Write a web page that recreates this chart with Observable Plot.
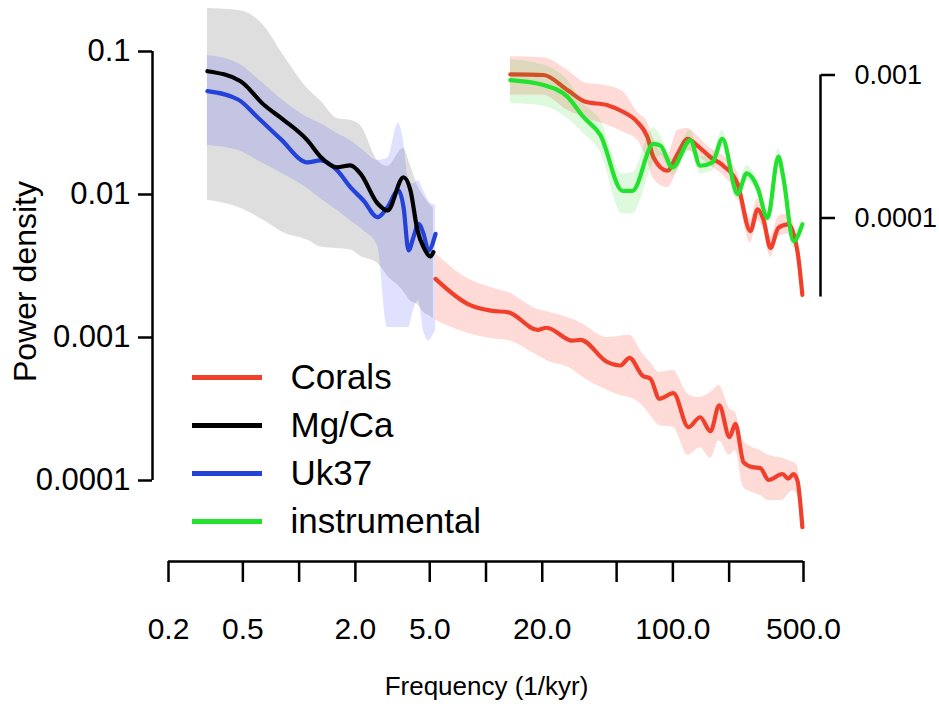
<!DOCTYPE html>
<html><head><meta charset="utf-8">
<script src="https://cdn.jsdelivr.net/npm/d3@7"></script>
<script src="https://cdn.jsdelivr.net/npm/@observablehq/plot@0.6"></script>
<style>
html,body{margin:0;padding:0;background:#fff;}
#chart{width:939px;height:704px;}
</style>
</head><body><div id="chart"></div>
<script>
// ---- Axis ticks ----
const xTicks = [0.2, 0.5, 1, 2, 5, 10, 20, 50, 100, 200, 500];
const xLabelTicks = [0.2, 0.5, 2, 5, 20, 100, 500];
const xTickLabels = ["0.2", "0.5", "2.0", "5.0", "20.0", "100.0", "500.0"];
const yTicks = [0.1, 0.01, 0.001, 0.0001];
const yTickLabels = ["0.1", "0.01", "0.001", "0.0001"];
const rightTicks = [0.001, 0.0001];
const rightTickLabels = ["0.001", "0.0001"];
const rightAxisExtent = [0.001, 0.000028];
const rightToLeft = 68.5; // right-axis units -> left-axis units

// ---- Legend ----
const seriesNames = ["Corals", "Mg/Ca", "Uk37", "instrumental"];
const seriesColors = ["#f0402c", "#000000", "#2343d8", "#22e22e"];

// ---- Mg/Ca (left axis) ----
const mgcaFreq  = [0.323, 0.486, 0.645, 0.825, 1.108, 1.30, 1.60, 1.88, 2.13, 2.63, 2.97, 3.62, 3.94, 4.30, 4.63, 5.04, 5.23];
const mgcaPower = [0.0728, 0.0620, 0.0426, 0.0333, 0.0239, 0.0184, 0.0155, 0.0160, 0.0140, 0.00865, 0.00773, 0.0132, 0.0107, 0.0056, 0.00428, 0.00369, 0.00395];
const mgcaHi    = [0.2, 0.193, 0.152, 0.094, 0.0551, 0.0454, 0.034, 0.033, 0.0304, 0.0173, 0.0157, 0.021, 0.016, 0.0116, 0.0098, 0.0084, 0.0080];
const mgcaLo    = [0.0091, 0.0080, 0.0066, 0.0054, 0.0048, 0.0043, 0.0042, 0.0041, 0.0037, 0.0033, 0.0027, 0.0021, 0.0018, 0.0017, 0.0015, 0.0014, 0.00135];

// ---- Uk37 (left axis) ----
const ukFreq  = [0.323, 0.474, 0.599, 0.795, 1.108, 1.30, 1.60, 1.88, 2.21, 2.63, 2.97, 3.40, 3.62, 3.85, 4.09, 4.35, 4.63, 4.92, 5.37];
const ukPower = [0.0528, 0.046, 0.0347, 0.0245, 0.0168, 0.0173, 0.0147, 0.01125, 0.00908, 0.00694, 0.00815, 0.0107, 0.00815, 0.00406, 0.00503, 0.00624, 0.00531, 0.00406, 0.00531];
const ukHi    = [0.0938, 0.0824, 0.0647, 0.0469, 0.0346, 0.0314, 0.0267, 0.0239, 0.0203, 0.0173, 0.0179, 0.0314, 0.0239, 0.0129, 0.0119, 0.0125, 0.0107, 0.00908, 0.00838];
const ukLo    = [0.022, 0.0203, 0.0173, 0.01425, 0.0110, 0.00938, 0.00773, 0.00658, 0.0056, 0.0044, 0.001175, 0.001175, 0.001175, 0.001175, 0.00154, 0.00181, 0.00112, 0.00095, 0.00112];

// ---- Corals, long spectrum (left axis) ----
const coralFreq  = [5.37, 7.96, 10.6, 13.2, 18.9, 21.1, 29.0, 32.0, 44.7, 52.4, 58.6, 68.7, 75.9, 84.7, 100.7, 121, 140, 159, 177, 201, 216, 239, 266, 294, 325, 386, 415, 442, 464, 493];
const coralPower = [0.00257, 0.00172, 0.00154, 0.00150, 0.00113, 0.00117, 0.00095, 0.000964, 0.000672, 0.000637, 0.000721, 0.000542, 0.000514, 0.000373, 0.000408, 0.000236, 0.000277, 0.000221, 0.000335, 0.000201, 0.000249, 0.000134, 0.000124, 0.000122, 0.000101, 0.000111, 0.000103, 0.000111, 0.0001, 0.0000472];
const coralHi    = [0.00387, 0.00259, 0.00224, 0.00206, 0.00157, 0.00152, 0.00134, 0.00127, 0.001, 0.00102, 0.00104, 0.000773, 0.000668, 0.000569, 0.000588, 0.0004, 0.00038, 0.000412, 0.000462, 0.000319, 0.000299, 0.00019, 0.00017, 0.000162, 0.00015, 0.000143, 0.000138, 0.000134, 0.000127, 0.0000569];
const coralLo    = [0.00132, 0.00107, 0.000984, 0.00095, 0.000748, 0.000691, 0.000597, 0.000542, 0.000426, 0.000393, 0.00038, 0.000335, 0.000285, 0.000242, 0.000235, 0.00015, 0.00017, 0.000143, 0.00019, 0.00015, 0.000162, 0.0000893, 0.0000824, 0.0000785, 0.0000725, 0.0000725, 0.00008, 0.0000851, 0.0000785, 0.0000412];

// ---- Corals, instrumental period (right axis) ----
const coral2Freq  = [13.5, 20.3, 27.3, 34.1, 44.7, 54.4, 64.6, 73.1, 78.7, 93.5, 106, 120, 135, 159, 186, 222, 260, 284, 305, 333, 367, 415, 464, 493];
const coral2Power = [0.00101, 0.001, 0.000784, 0.000649, 0.000615, 0.000551, 0.000469, 0.000368, 0.000266, 0.000214, 0.000281, 0.000358, 0.000321, 0.000266, 0.000232, 0.000173, 0.000081, 0.000115, 0.0000979, 0.0000618, 0.0000855, 0.0000903, 0.0000586, 0.000029];
const coral2Hi    = [0.00134, 0.00132, 0.00108, 0.000878, 0.000837, 0.000759, 0.000549, 0.000467, 0.00036, 0.000273, 0.00041, 0.000423, 0.000378, 0.000306, 0.000273, 0.000207, 0.0000984, 0.000136, 0.000116, 0.0000735, 0.000102, 0.000107, 0.0000689, 0.0000332];
const coral2Lo    = [0.000723, 0.000723, 0.000567, 0.000498, 0.000445, 0.000397, 0.000349, 0.000252, 0.000188, 0.000163, 0.000214, 0.000296, 0.000273, 0.000232, 0.000198, 0.000143, 0.0000667, 0.0000953, 0.0000837, 0.0000531, 0.0000735, 0.0000772, 0.0000514, 0.000026];

// ---- Instrumental (right axis) ----
const instFreq  = [13.5, 20.3, 27.3, 33.2, 41.0, 53.7, 60.8, 78.7, 85.8, 99.5, 124, 140, 163, 184, 222, 248, 284, 321, 367, 390, 442, 493];
const instPower = [0.000922, 0.000851, 0.000703, 0.000509, 0.000378, 0.000155, 0.000155, 0.00033, 0.000321, 0.000226, 0.000349, 0.000232, 0.000245, 0.000358, 0.000147, 0.000205, 0.000163, 0.0001, 0.000269, 0.000192, 0.0000689, 0.0000903];
const instHi    = [0.00128, 0.00118, 0.000922, 0.000635, 0.000482, 0.000204, 0.000207, 0.00043, 0.000378, 0.00026, 0.00041, 0.000269, 0.000278, 0.00041, 0.000168, 0.000232, 0.000185, 0.000114, 0.000306, 0.000218, 0.0000784, 0.000102];
const instLo    = [0.000635, 0.000605, 0.000498, 0.000391, 0.000287, 0.000107, 0.000107, 0.00024, 0.000273, 0.000198, 0.000296, 0.000204, 0.000214, 0.000316, 0.000132, 0.000182, 0.000145, 0.0000893, 0.00024, 0.000171, 0.0000615, 0.0000797];

// ---- build tables ----
const rows = (f, p, lo, hi, m = 1) => f.map((x, i) => ({f: x, p: p[i] * m, lo: lo[i] * m, hi: hi[i] * m}));
const mgca = rows(mgcaFreq, mgcaPower, mgcaLo, mgcaHi);
const uk = rows(ukFreq, ukPower, ukLo, ukHi);
const coral = rows(coralFreq, coralPower, coralLo, coralHi);
const coral2 = rows(coral2Freq, coral2Power, coral2Lo, coral2Hi, rightToLeft);
const inst = rows(instFreq, instPower, instLo, instHi, rightToLeft);
const rightTicksLeft = rightTicks.map(v => v * rightToLeft);
const xLabelRows = xLabelTicks.map((v, i) => ({v, label: xTickLabels[i]}));
const yLabelRows = yTicks.map((v, i) => ({v, label: yTickLabels[i]}));
const rightLabelRows = rightTicksLeft.map((v, i) => ({v, label: rightTickLabels[i]}));

const xOpts = {type: "log", domain: [0.2, 500], range: [168, 803]};
const yOpts = {type: "log", domain: [1e-4, 0.1], range: [480, 51]};
const xs = Plot.scale({x: xOpts});
const ys = Plot.scale({y: yOpts});

const legendRows = seriesNames.map((name, i) => ({name, color: seriesColors[i], y: ys.invert(377 + 48 * i)}));

const [cRed, cBlack, cBlue, cGreen] = seriesColors;
const curve = "monotone-x";
const lw = 4.2;
const noLabel = () => "";

const chart = Plot.plot({
  width: 939,
  height: 704,
  marginLeft: 152,
  marginRight: 119,
  marginTop: 51,
  marginBottom: 143,
  x: xOpts,
  y: yOpts,
  color: {type: "identity"},
  style: {fontFamily: "'Liberation Sans', Arial, Helvetica, sans-serif", background: "#fff", color: "#000", overflow: "visible"},
  marks: [
    Plot.areaY(mgca, {x: "f", y1: "lo", y2: "hi", fill: "#7f7f7f", fillOpacity: 0.26, curve}),
    Plot.areaY(uk, {x: "f", y1: "lo", y2: "hi", fill: "#4545ff", fillOpacity: 0.17, curve}),
    Plot.line(uk, {x: "f", y: "p", stroke: cBlue, strokeWidth: lw, curve}),
    Plot.line(mgca, {x: "f", y: "p", stroke: cBlack, strokeWidth: lw, curve}),
    Plot.areaY(coral, {x: "f", y1: "lo", y2: "hi", fill: "#ff2a1a", fillOpacity: 0.17, curve}),
    Plot.line(coral, {x: "f", y: "p", stroke: cRed, strokeWidth: lw, curve}),
    Plot.areaY(coral2, {x: "f", y1: "lo", y2: "hi", fill: "#ff2a1a", fillOpacity: 0.17, curve}),
    Plot.line(coral2, {x: "f", y: "p", stroke: cRed, strokeWidth: lw, curve}),
    Plot.areaY(inst, {x: "f", y1: "lo", y2: "hi", fill: "#00d000", fillOpacity: 0.13, curve}),
    Plot.line(inst, {x: "f", y: "p", stroke: cGreen, strokeWidth: lw, curve}),
    // left axis
    Plot.ruleX([0.2], {y1: yTicks[3], y2: yTicks[0], dx: -16, stroke: "#000", strokeWidth: 2.5}),
    Plot.axisY({ticks: yTicks, anchor: "left", tickSize: 14, strokeWidth: 2.5, tickFormat: noLabel, label: null}),
    Plot.text(yLabelRows, {y: "v", text: "label", frameAnchor: "left", dx: -22, textAnchor: "end", fontSize: 31}),
    // right axis
    Plot.ruleX([500], {y1: rightAxisExtent[0] * rightToLeft, y2: rightAxisExtent[1] * rightToLeft, dx: 17, stroke: "#000", strokeWidth: 2.5}),
    Plot.axisY({ticks: rightTicksLeft, anchor: "right", tickSize: 14, strokeWidth: 2.5, tickFormat: noLabel, label: null}),
    Plot.text(rightLabelRows, {y: "v", text: "label", frameAnchor: "right", dx: 34, textAnchor: "start", fontSize: 27}),
    // bottom axis
    Plot.ruleY([yTicks[3]], {x1: xTicks[0], x2: xTicks[xTicks.length - 1], dy: 81, stroke: "#000", strokeWidth: 2.5}),
    Plot.axisX({ticks: xTicks, anchor: "bottom", tickSize: 21, strokeWidth: 2.5, tickFormat: noLabel, label: null}),
    Plot.text(xLabelRows, {x: "v", text: "label", frameAnchor: "bottom", dy: 56, lineAnchor: "top", fontSize: 30}),
    // axis titles
    Plot.text(["Power density"], {x: xs.invert(25), y: ys.invert(281), rotate: -90, fontSize: 32}),
    Plot.text(["Frequency (1/kyr)"], {frameAnchor: "bottom", dy: 133, fontSize: 26}),
    // legend
    Plot.ruleY(legendRows, {y: "y", x1: xs.invert(192), x2: xs.invert(262), stroke: "color", strokeWidth: 5}),
    Plot.text(legendRows, {y: "y", x: xs.invert(290), text: "name", textAnchor: "start", fontSize: 35})
  ]
});
document.getElementById("chart").appendChild(chart);
</script>
</body></html>
